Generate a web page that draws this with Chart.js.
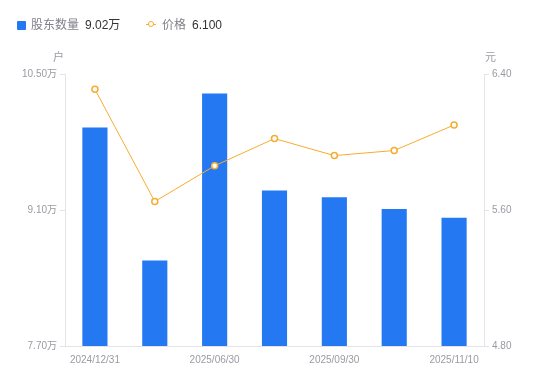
<!DOCTYPE html>
<html>
<head>
<meta charset="utf-8">
<script src="https://cdn.jsdelivr.net/npm/chart.js@4.4.1/dist/chart.umd.min.js"></script>
<style>
  html, body { margin: 0; padding: 0; background: #fff; }
  body { font-family: 'Liberation Sans', 'Noto Sans CJK SC', sans-serif; }
  #wrap { position: relative; width: 550px; height: 381px; }
  #chart { position: absolute; left: 0; top: 0; }
  .abs { position: absolute; white-space: nowrap; line-height: 1; }
  .lg-name { color: #80808a; font-size: 12px; }
  .lg-val { color: #333; font-size: 12px; }
  .unit { color: #9a9aa2; font-size: 11px; }
</style>
</head>
<body>
<div id="wrap">
  <canvas id="chart" width="550" height="381"></canvas>
  <div class="abs" style="left:17px;top:21px;width:9px;height:9px;background:#2478f2;border-radius:1px;"></div>
  <div class="abs lg-name" style="left:31px;top:19px;">股东数量</div>
  <div class="abs lg-val" id="lg-holders" style="left:85px;top:19px;"></div>
  <div class="abs" style="left:146px;top:24px;width:10px;height:1px;background:#f7ac2f;"></div>
  <div class="abs" style="left:148px;top:21px;width:4px;height:4px;border:1.5px solid #f7ac2f;border-radius:50%;background:#fff;"></div>
  <div class="abs lg-name" style="left:162px;top:19px;">价格</div>
  <div class="abs lg-val" id="lg-price" style="left:192px;top:19px;"></div>
  <div class="abs unit" style="left:53px;top:52px;">户</div>
  <div class="abs unit" style="left:485px;top:52px;">元</div>
</div>
<script>
// 股东户数 (万户) 与 股价 (元)
const dates = ['2024/12/31', '2025/03/31', '2025/06/30', '2025/08/15', '2025/09/30', '2025/10/31', '2025/11/10'];
const holders = [9.95, 8.58, 10.30, 9.30, 9.23, 9.11, 9.02];
const prices = [6.31, 5.65, 5.86, 6.02, 5.92, 5.95, 6.10];
const holderTicks = [7.70, 9.10, 10.50];
const priceTicks = [4.80, 5.60, 6.40];

const BLUE = '#2478f2';
const ORANGE = '#f7ac2f';
const AXIS = '#e4e4e8';
const TICK_TEXT = '#9a9aa2';

document.getElementById('lg-holders').textContent = holders[holders.length - 1].toFixed(2) + '万';
document.getElementById('lg-price').textContent = prices[prices.length - 1].toFixed(3);

Chart.defaults.font.family = "'Liberation Sans', 'Noto Sans CJK SC', sans-serif";

new Chart(document.getElementById('chart'), {
    data: {
        labels: dates,
        datasets: [
            {
                type: 'line',
                label: '价格',
                data: prices,
                yAxisID: 'y1',
                order: 0,
                borderColor: ORANGE,
                borderWidth: 1,
                tension: 0,
                pointRadius: 3,
                pointBorderWidth: 1.5,
                pointBorderColor: ORANGE,
                pointBackgroundColor: '#fff'
            },
            {
                type: 'bar',
                label: '股东数量',
                data: holders,
                yAxisID: 'y',
                order: 1,
                backgroundColor: BLUE,
                barPercentage: 0.42,
                categoryPercentage: 1
            }
        ]
    },
    options: {
        responsive: false,
        animation: false,
        layout: { padding: { top: 74, left: 0, right: 0, bottom: 0 } },
        plugins: { legend: { display: false }, tooltip: { enabled: false } },
        scales: {
            x: {
                type: 'category',
                offset: true,
                grid: { display: false, drawTicks: false },
                border: { display: true, color: AXIS },
                ticks: {
                    autoSkip: false,
                    maxRotation: 0,
                    padding: 8,
                    color: TICK_TEXT,
                    font: { size: 10 },
                    callback: (v, i) => (i % 2 === 0 ? dates[i] : '')
                },
                afterFit: s => { s.height = 35; }
            },
            y: {
                position: 'left',
                min: holderTicks[0],
                max: holderTicks[holderTicks.length - 1],
                afterBuildTicks: s => { s.ticks = holderTicks.map(v => ({ value: v })); },
                grid: { drawOnChartArea: false, tickLength: 5, color: AXIS },
                border: { display: true, color: AXIS },
                ticks: {
                    padding: 3,
                    color: TICK_TEXT,
                    font: { size: 10 },
                    callback: v => v.toFixed(2) + '万'
                },
                afterFit: s => { s.width = 65; }
            },
            y1: {
                position: 'right',
                min: priceTicks[0],
                max: priceTicks[priceTicks.length - 1],
                afterBuildTicks: s => { s.ticks = priceTicks.map(v => ({ value: v })); },
                grid: { drawOnChartArea: false, tickLength: 5, color: AXIS },
                border: { display: true, color: AXIS },
                ticks: {
                    padding: 3,
                    color: TICK_TEXT,
                    font: { size: 10 },
                    callback: v => v.toFixed(2)
                },
                afterFit: s => { s.width = 66; }
            }
        }
    }
});
</script>
</body>
</html>
